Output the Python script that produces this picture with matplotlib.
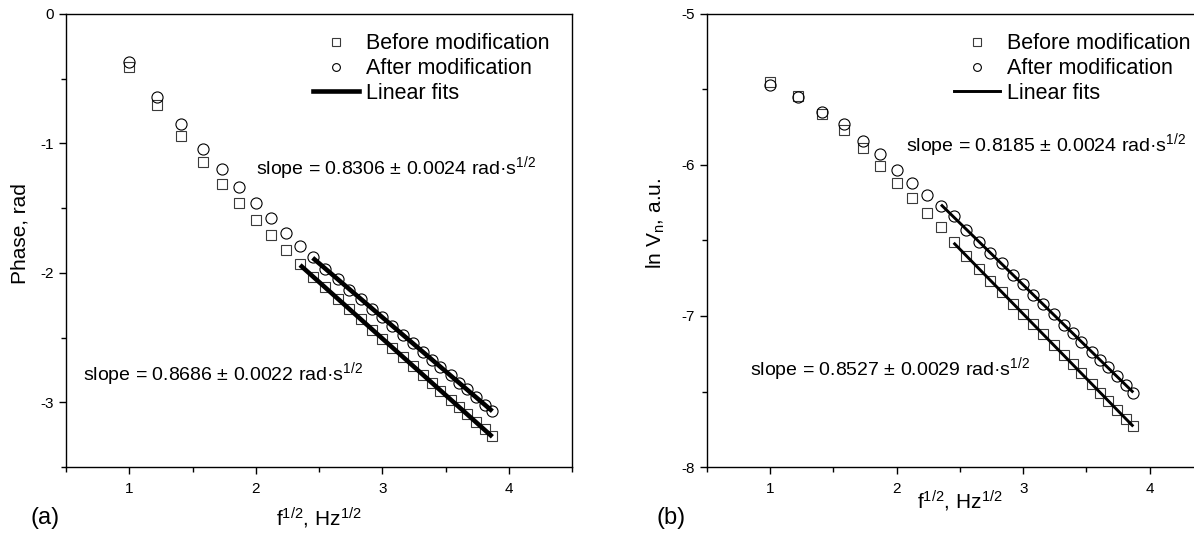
import matplotlib
matplotlib.use('Agg')
import matplotlib.pyplot as plt
from matplotlib.lines import Line2D
import numpy as np

plt.rcParams['font.family'] = ['Liberation Sans', 'DejaVu Sans']
plt.rcParams['mathtext.fontset'] = 'custom'
plt.rcParams['mathtext.rm'] = 'Liberation Sans'
plt.rcParams['mathtext.it'] = 'Liberation Sans:italic'
plt.rcParams['axes.unicode_minus'] = False

# square root of frequency, Hz^1/2
sqrt_f = [1.00, 1.22, 1.41, 1.58, 1.73, 1.87, 2.00, 2.12, 2.24, 2.35,
          2.45, 2.55, 2.65, 2.74, 2.83, 2.92, 3.00, 3.08, 3.16, 3.24,
          3.32, 3.39, 3.46, 3.54, 3.61, 3.67, 3.74, 3.81, 3.87]

# (a) phase, rad
phase_before = [-0.41, -0.70, -0.94, -1.14, -1.31, -1.46, -1.59, -1.71, -1.82, -1.93,
                -2.03, -2.11, -2.20, -2.28, -2.36, -2.44, -2.51, -2.58, -2.65, -2.72,
                -2.79, -2.85, -2.91, -2.98, -3.04, -3.09, -3.15, -3.21, -3.26]
phase_after = [-0.37, -0.64, -0.85, -1.04, -1.20, -1.34, -1.46, -1.58, -1.69, -1.79,
               -1.88, -1.97, -2.05, -2.13, -2.20, -2.28, -2.34, -2.41, -2.48, -2.54,
               -2.61, -2.67, -2.73, -2.79, -2.85, -2.90, -2.96, -3.02, -3.07]

# (b) ln Vn, a.u.
lnv_before = [-5.45, -5.54, -5.66, -5.77, -5.89, -6.01, -6.12, -6.22, -6.32, -6.41,
              -6.51, -6.60, -6.69, -6.77, -6.84, -6.92, -6.99, -7.05, -7.12, -7.19,
              -7.26, -7.32, -7.38, -7.45, -7.51, -7.56, -7.62, -7.68, -7.73]
lnv_after = [-5.47, -5.55, -5.65, -5.73, -5.84, -5.93, -6.03, -6.12, -6.20, -6.27,
             -6.34, -6.43, -6.51, -6.58, -6.65, -6.73, -6.79, -6.86, -6.92, -6.99,
             -7.06, -7.11, -7.17, -7.24, -7.29, -7.34, -7.40, -7.46, -7.51]

# first point of each linear fit (index in sqrt_f)
fit_start_a = {'before': 9, 'after': 10}
fit_start_b = {'before': 10, 'after': 9}

slopes_a = ['0.8306 \u00b1 0.0024', '0.8686 \u00b1 0.0022']
slopes_b = ['0.8185 \u00b1 0.0024', '0.8527 \u00b1 0.0029']

x = np.array(sqrt_f)

fig = plt.figure(figsize=(11.94, 5.33), dpi=100)
ax1 = fig.add_axes([0.0553, 0.1238, 0.4238, 0.850])
ax2 = fig.add_axes([0.5921, 0.1238, 0.4238, 0.850])


def draw_panel(ax, before, after, starts, fit_lw):
    before = np.array(before)
    after = np.array(after)
    for y, i0 in ((before, starts['before']), (after, starts['after'])):
        k, b = np.polyfit(x[i0:], y[i0:], 1)
        xx = np.array([x[i0], x[-1]])
        ax.plot(xx, k * xx + b, color='black', lw=fit_lw, zorder=3, solid_capstyle='butt')
    ax.plot(x, before, ls='none', marker='s', ms=7.5, mfc='none', mec='#3a3a3a', mew=0.8, zorder=2)
    ax.plot(x, after, ls='none', marker='o', ms=8, mfc='none', mec='black', mew=0.8, zorder=2)

    ax.set_xlim(0.5, 4.5)
    ax.set_xticks([1, 2, 3, 4])
    ax.set_xticks([0.5, 1.5, 2.5, 3.5, 4.5], minor=True)
    for s in ax.spines.values():
        s.set_linewidth(1.0)
    ax.tick_params(which='major', direction='out', length=5, width=1, labelsize=11, top=False, right=False)
    ax.tick_params(axis='y', which='major', pad=3.5)
    ax.tick_params(axis='x', which='major', pad=6)
    ax.tick_params(which='minor', direction='out', length=3.5, width=1, top=False, right=False)

    handles = [Line2D([], [], ls='none', marker='s', ms=7.5, mfc='none', mec='#3a3a3a', mew=0.8),
               Line2D([], [], ls='none', marker='o', ms=8, mfc='none', mec='black', mew=0.8),
               Line2D([], [], color='black', lw=fit_lw)]
    ax.legend(handles, ['Before modification', 'After modification', 'Linear fits'],
              loc='upper left', bbox_to_anchor=(0.488, 0.957), frameon=False, fontsize=15.5,
              handlelength=2.14, handletextpad=0.33, labelspacing=0.17, markerscale=0.7,
              borderpad=0, borderaxespad=0)


draw_panel(ax1, phase_before, phase_after, fit_start_a, 3.3)
ax1.set_ylim(-3.5, 0)
ax1.set_yticks([0, -1, -2, -3])
ax1.set_yticks([-0.5, -1.5, -2.5, -3.5], minor=True)
ax1.set_xlabel('f$^{1/2}$, Hz$^{1/2}$', fontsize=15)
ax1.set_ylabel('Phase, rad', fontsize=15)
ax1.xaxis.set_label_coords(0.5, -0.085)
ax1.yaxis.set_label_coords(-0.073, 0.515)
ax1.text(2.0, -1.19, 'slope = ' + slopes_a[0] + ' rad\u00b7s$^{1/2}$', fontsize=14, va='center', ha='left')
ax1.text(0.634, -2.78, 'slope = ' + slopes_a[1] + ' rad\u00b7s$^{1/2}$', fontsize=14, va='center', ha='left')

draw_panel(ax2, lnv_before, lnv_after, fit_start_b, 2.1)
ax2.set_ylim(-8, -5)
ax2.set_yticks([-5, -6, -7, -8])
ax2.set_yticks([-5.5, -6.5, -7.5], minor=True)
ax2.set_xlabel('f$^{1/2}$, Hz$^{1/2}$', fontsize=15)
ax2.set_ylabel('ln V$_{\\mathrm{n}}$, a.u.', fontsize=15)
ax2.xaxis.set_label_coords(0.5, -0.047)
ax2.yaxis.set_label_coords(-0.079, 0.538)
ax2.text(2.07, -5.87, 'slope = ' + slopes_b[0] + ' rad\u00b7s$^{1/2}$', fontsize=14, va='center', ha='left')
ax2.text(0.84, -7.35, 'slope = ' + slopes_b[1] + ' rad\u00b7s$^{1/2}$', fontsize=14, va='center', ha='left')

fig.text(31 / 1194, 1 - 518 / 533, '(a)', fontsize=17, va='center', ha='left')
fig.text(656 / 1194, 1 - 518 / 533, '(b)', fontsize=17, va='center', ha='left')

fig.savefig('out.png', dpi=100)
